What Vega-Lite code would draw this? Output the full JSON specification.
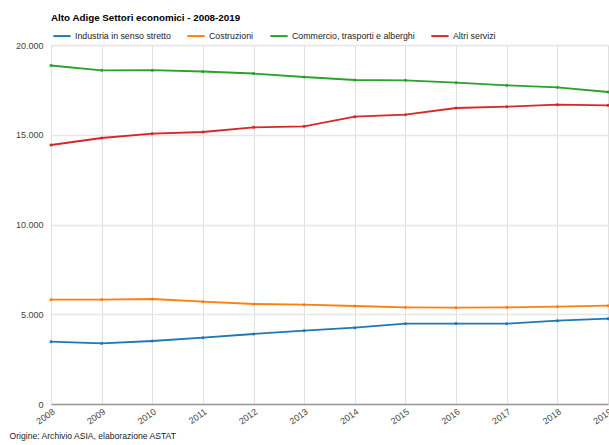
{
  "$schema": "https://vega.github.io/schema/vega-lite/v6.json",
  "autosize": {"type": "none"},
  "width": 557,
  "height": 359,
  "padding": {"left": 51, "top": 45, "right": 1, "bottom": 41},
  "background": "white",
  "config": {
    "font": "Liberation Sans",
    "locale": {"number": {"decimal": ",", "thousands": ".", "grouping": [3], "currency": ["€", ""]}},
    "view": {"stroke": null}
  },
  "title": {
    "text": "Alto Adige Settori economici - 2008-2019",
    "anchor": "start",
    "frame": "group",
    "fontSize": 9.8,
    "fontWeight": "bold",
    "color": "#000",
    "offset": 3
  },
  "data": {
    "values": [
      {"anno": 2008, "settore": "Industria in senso stretto", "valore": 3471},
      {"anno": 2009, "settore": "Industria in senso stretto", "valore": 3380},
      {"anno": 2010, "settore": "Industria in senso stretto", "valore": 3510},
      {"anno": 2011, "settore": "Industria in senso stretto", "valore": 3694},
      {"anno": 2012, "settore": "Industria in senso stretto", "valore": 3900},
      {"anno": 2013, "settore": "Industria in senso stretto", "valore": 4084},
      {"anno": 2014, "settore": "Industria in senso stretto", "valore": 4251},
      {"anno": 2015, "settore": "Industria in senso stretto", "valore": 4474},
      {"anno": 2016, "settore": "Industria in senso stretto", "valore": 4480},
      {"anno": 2017, "settore": "Industria in senso stretto", "valore": 4476},
      {"anno": 2018, "settore": "Industria in senso stretto", "valore": 4640},
      {"anno": 2019, "settore": "Industria in senso stretto", "valore": 4752},
      {"anno": 2008, "settore": "Costruzioni", "valore": 5811},
      {"anno": 2009, "settore": "Costruzioni", "valore": 5815},
      {"anno": 2010, "settore": "Costruzioni", "valore": 5850},
      {"anno": 2011, "settore": "Costruzioni", "valore": 5700},
      {"anno": 2012, "settore": "Costruzioni", "valore": 5571},
      {"anno": 2013, "settore": "Costruzioni", "valore": 5532},
      {"anno": 2014, "settore": "Costruzioni", "valore": 5460},
      {"anno": 2015, "settore": "Costruzioni", "valore": 5387},
      {"anno": 2016, "settore": "Costruzioni", "valore": 5365},
      {"anno": 2017, "settore": "Costruzioni", "valore": 5387},
      {"anno": 2018, "settore": "Costruzioni", "valore": 5420},
      {"anno": 2019, "settore": "Costruzioni", "valore": 5476},
      {"anno": 2008, "settore": "Commercio, trasporti e alberghi", "valore": 18858},
      {"anno": 2009, "settore": "Commercio, trasporti e alberghi", "valore": 18590},
      {"anno": 2010, "settore": "Commercio, trasporti e alberghi", "valore": 18595},
      {"anno": 2011, "settore": "Commercio, trasporti e alberghi", "valore": 18523},
      {"anno": 2012, "settore": "Commercio, trasporti e alberghi", "valore": 18412},
      {"anno": 2013, "settore": "Commercio, trasporti e alberghi", "valore": 18217},
      {"anno": 2014, "settore": "Commercio, trasporti e alberghi", "valore": 18050},
      {"anno": 2015, "settore": "Commercio, trasporti e alberghi", "valore": 18033},
      {"anno": 2016, "settore": "Commercio, trasporti e alberghi", "valore": 17900},
      {"anno": 2017, "settore": "Commercio, trasporti e alberghi", "valore": 17755},
      {"anno": 2018, "settore": "Commercio, trasporti e alberghi", "valore": 17643},
      {"anno": 2019, "settore": "Commercio, trasporti e alberghi", "valore": 17382},
      {"anno": 2008, "settore": "Altri servizi", "valore": 14429},
      {"anno": 2009, "settore": "Altri servizi", "valore": 14819},
      {"anno": 2010, "settore": "Altri servizi", "valore": 15058},
      {"anno": 2011, "settore": "Altri servizi", "valore": 15153},
      {"anno": 2012, "settore": "Altri servizi", "valore": 15415},
      {"anno": 2013, "settore": "Altri servizi", "valore": 15471},
      {"anno": 2014, "settore": "Altri servizi", "valore": 16006},
      {"anno": 2015, "settore": "Altri servizi", "valore": 16118},
      {"anno": 2016, "settore": "Altri servizi", "valore": 16490},
      {"anno": 2017, "settore": "Altri servizi", "valore": 16564},
      {"anno": 2018, "settore": "Altri servizi", "valore": 16675},
      {"anno": 2019, "settore": "Altri servizi", "valore": 16640}
    ]
  },
  "mark": {"type": "line", "strokeWidth": 1.8, "point": {"filled": true, "size": 9}},
  "encoding": {
    "x": {
      "field": "anno",
      "type": "quantitative",
      "scale": {"domain": [2008, 2019], "nice": false, "zero": false},
      "axis": {
        "values": [2008, 2009, 2010, 2011, 2012, 2013, 2014, 2015, 2016, 2017, 2018, 2019],
        "format": "d",
        "labelAngle": -35,
        "labelAlign": "right",
        "labelBaseline": "top",
        "labelFontSize": 9,
        "labelColor": "#444",
        "labelPadding": 3,
        "labelOverlap": false,
        "labelBound": false,
        "labelFlush": false,
        "ticks": false,
        "domainColor": "#999",
        "domainWidth": 1.5,
        "gridColor": "#e0e0e0",
        "title": "Origine: Archivio ASIA, elaborazione ASTAT",
        "titleAnchor": "start",
        "titleX": -42,
        "titleY": 34,
        "titleBaseline": "alphabetic",
        "titleFontSize": 8.6,
        "titleFontWeight": "normal",
        "titleColor": "#222"
      }
    },
    "y": {
      "field": "valore",
      "type": "quantitative",
      "scale": {"domain": [0, 20000], "nice": false},
      "axis": {
        "values": [0, 5000, 10000, 15000, 20000],
        "format": ",d",
        "labelFontSize": 9,
        "labelColor": "#444",
        "labelPadding": 8,
        "ticks": false,
        "domain": false,
        "gridColor": "#e6e6e6",
        "gridWidth": 1.5,
        "title": null
      }
    },
    "color": {
      "field": "settore",
      "type": "nominal",
      "scale": {
        "domain": ["Industria in senso stretto", "Costruzioni", "Commercio, trasporti e alberghi", "Altri servizi"],
        "range": ["#1f77b4", "#ff7f0e", "#2ca02c", "#d62728"]
      },
      "legend": {
        "orient": "none",
        "legendX": 1,
        "legendY": -19,
        "direction": "horizontal",
        "title": null,
        "symbolType": "stroke",
        "symbolSize": 300,
        "symbolStrokeWidth": 2,
        "labelFontSize": 8.8,
        "labelColor": "#222",
        "labelOffset": 3,
        "columnPadding": 12,
        "labelLimit": 300
      }
    }
  }
}
